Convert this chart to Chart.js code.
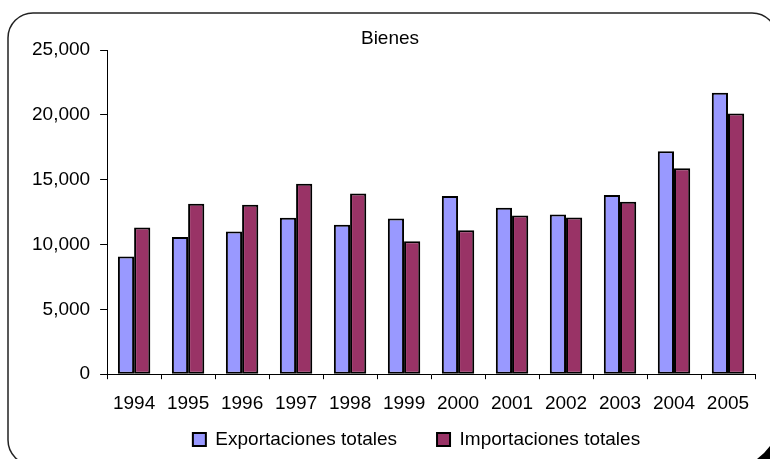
<!DOCTYPE html>
<html>
<head>
<meta charset="utf-8">
<script src="https://cdn.jsdelivr.net/npm/chart.js@4/dist/chart.umd.min.js"></script>
<style>
  html, body { margin: 0; padding: 0; background: #fff; }
  #wrap { width: 770px; height: 459px; }
</style>
</head>
<body>
<div id="wrap"><canvas id="chart" width="770" height="459"></canvas></div>
<script>
// -------------------------------
// Data
// -------------------------------
const years = ['1994', '1995', '1996', '1997', '1998', '1999', '2000', '2001', '2002', '2003', '2004', '2005'];
const exportaciones = [9070, 10580, 11000, 12060, 11520, 12000, 13740, 12840, 12320, 13810, 17190, 21700];
const importaciones = [11320, 13150, 13070, 14690, 13940, 10260, 11100, 12240, 12090, 13300, 15880, 20110];
const yTicks = [0, 5000, 10000, 15000, 20000, 25000];
const chartTitle = 'Bienes';

const FONT = "'Liberation Sans', Arial, sans-serif";

// -------------------------------
// Frame, title, legend placement
// -------------------------------
function roundRect(ctx, x, y, w, h, r) {
  ctx.beginPath();
  ctx.moveTo(x + r, y);
  ctx.lineTo(x + w - r, y);
  ctx.arcTo(x + w, y, x + w, y + r, r);
  ctx.lineTo(x + w, y + h - r);
  ctx.arcTo(x + w, y + h, x + w - r, y + h, r);
  ctx.lineTo(x + r, y + h);
  ctx.arcTo(x, y + h, x, y + h - r, r);
  ctx.lineTo(x, y + r);
  ctx.arcTo(x, y, x + r, y, r);
  ctx.closePath();
}

const framePlugin = {
  id: 'frame',
  afterLayout(chart) {
    // legend centred under the plot like the original
    const lg = chart.legend;
    lg.left = 78;
    lg.right = 755;
    lg.top = 390;
    lg.bottom = 459;
  },
  beforeDraw(chart) {
    const ctx = chart.ctx;
    ctx.save();
    ctx.fillStyle = '#fff';
    ctx.fillRect(0, 0, chart.width, chart.height);
    roundRect(ctx, 8, 13, 769, 452, 25);
    ctx.lineWidth = 1.5;
    ctx.strokeStyle = '#222';
    ctx.stroke();
    // corner of the frame shadow
    ctx.beginPath();
    ctx.moveTo(757, 459);
    ctx.quadraticCurveTo(765, 453, 770, 446);
    ctx.lineTo(770, 459);
    ctx.closePath();
    ctx.fillStyle = '#000';
    ctx.fill();
    ctx.restore();
  },
  afterDraw(chart) {
    const ctx = chart.ctx;
    ctx.save();
    ctx.font = '19px ' + FONT;
    ctx.fillStyle = '#000';
    ctx.textAlign = 'center';
    ctx.textBaseline = 'middle';
    ctx.fillText(chartTitle, 390, 39);
    ctx.restore();
  }
};

// -------------------------------
// Chart.js
// -------------------------------
new Chart(document.getElementById('chart'), {
  type: 'bar',
  data: {
    labels: years,
    datasets: [{
      label: 'Exportaciones totales',
      data: exportaciones,
      backgroundColor: '#9999FF',
      borderColor: '#000',
      borderWidth: 2,
      borderSkipped: false
    }, {
      label: 'Importaciones totales',
      data: importaciones,
      backgroundColor: '#993366',
      borderColor: '#000',
      borderWidth: 2,
      borderSkipped: false
    }]
  },
  options: {
    responsive: false,
    animation: false,
    events: [],
    datasets: { bar: { barPercentage: 1, categoryPercentage: 0.6 } },
    layout: { padding: { left: 22, right: 15, top: 50, bottom: 8 } },
    plugins: {
      title: { display: false },
      tooltip: { enabled: false },
      legend: {
        position: 'bottom',
        maxHeight: 23,
        labels: {
          color: '#000',
          font: { family: FONT, size: 19 },
          boxWidth: 13,
          boxHeight: 13,
          padding: 40
        }
      }
    },
    scales: {
      x: {
        grid: { display: true, drawOnChartArea: false, offset: true, tickLength: 5, color: '#000' },
        border: { color: '#000', width: 1 },
        ticks: { color: '#000', font: { family: FONT, size: 19 }, padding: 13, maxRotation: 0, autoSkip: false }
      },
      y: {
        min: 0,
        max: 25000,
        afterBuildTicks(scale) { scale.ticks = yTicks.map(v => ({ value: v })); },
        grid: { display: true, drawOnChartArea: false, tickLength: 7, color: '#000' },
        border: { color: '#000', width: 1 },
        ticks: {
          color: '#000',
          font: { family: FONT, size: 19 },
          padding: 10,
          callback: v => v.toLocaleString('en-US')
        }
      }
    }
  },
  plugins: [framePlugin]
});
</script>
</body>
</html>
